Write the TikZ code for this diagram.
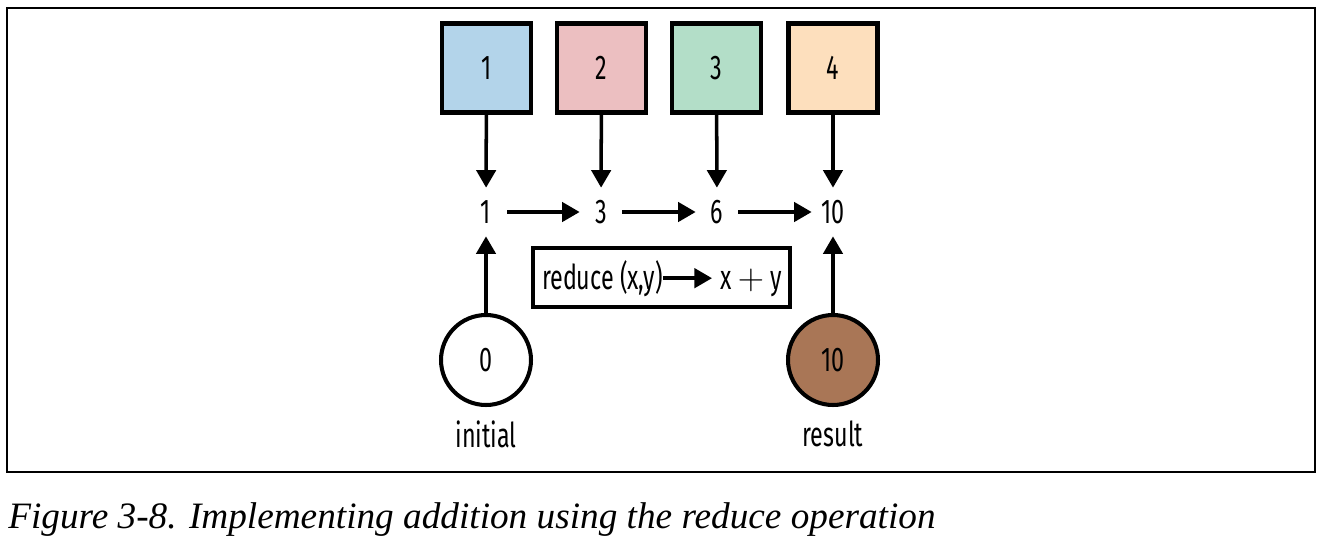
\documentclass[tikz,border=0pt]{standalone}
\usepackage{fontspec}
\setmainfont{Fira Sans}[FakeStretch=0.68]
\newfontfamily\capfont{Liberation Serif}
\usetikzlibrary{arrows.meta}
\definecolor{cblue}{HTML}{B3D4EA}
\definecolor{cpink}{HTML}{ECBFC1}
\definecolor{cgreen}{HTML}{B3DEC8}
\definecolor{corange}{HTML}{FDDFBD}
\definecolor{cbrown}{HTML}{A97656}
\begin{document}
\begin{tikzpicture}[x=0.02cm,y=0.02cm,
		every node/.style={inner sep=0pt,font=\fontsize{19.5}{22}\selectfont},
		item/.style={draw,line width=2.3pt,minimum size=1.78cm},
		sum/.style={minimum width=0.84cm,minimum height=0.96cm},
		val/.style={draw,circle,line width=2.3pt,minimum size=1.8cm},
		arr/.style={line width=2pt,-{Triangle[width=11pt,length=10pt]}}]
		\useasboundingbox (0,0) rectangle (1323,-549);
		\draw [line width=0.8pt] (7,-8) rectangle (1315,-472);
		% input boxes
		\node [item,fill=cblue] (b1) at (486.5,-68) {1};
		\node [item,fill=cpink] (b2) at (601.5,-68) {2};
		\node [item,fill=cgreen] (b3) at (716.5,-68) {3};
		\node [item,fill=corange] (b4) at (833,-68) {4};
		% running sums
		\node [sum] (s1) at (486,-212) {1};
		\node [sum] (s2) at (601,-212) {3};
		\node [sum] (s3) at (717,-212) {6};
		\node [sum] (s4) at (833,-212) {10};
		\draw [arr] (b1) -- (s1);
		\draw [arr] (b2) -- (s2);
		\draw [arr] (b3) -- (s3);
		\draw [arr] (b4) -- (s4);
		\draw [arr] (s1) -- (s2);
		\draw [arr] (s2) -- (s3);
		\draw [arr] (s3) -- (s4);
		% reduce function
		\node [draw,line width=2.3pt,minimum width=5.14cm,minimum height=1.18cm] (rbox) at (661.5,-277.5) {};
		\node [anchor=base east] (rin) at (663,-289) {reduce (x,y)};
		\node [anchor=base west] (rout) at (720,-289) {x $+$ y};
		\draw [arr,shorten >=0.16cm] (rin.east) -- (rin.east -| rout.west);
		% initial value and result
		\node [val] (init) at (486,-360) {0};
		\node [val,fill=cbrown] (res) at (833,-360) {10};
		\node (linit) at (486,-434) {initial};
		\node (lres) at (833,-434) {result};
		\draw [arr] (init) -- (s1);
		\draw [arr] (res) -- (s4);
		% caption
		\node [anchor=west,font=\capfont\itshape\fontsize{21.2}{25}\selectfont] (cap) at (8,-520) {Figure 3-8. Implementing addition using the reduce operation};
\end{tikzpicture}
\end{document}
